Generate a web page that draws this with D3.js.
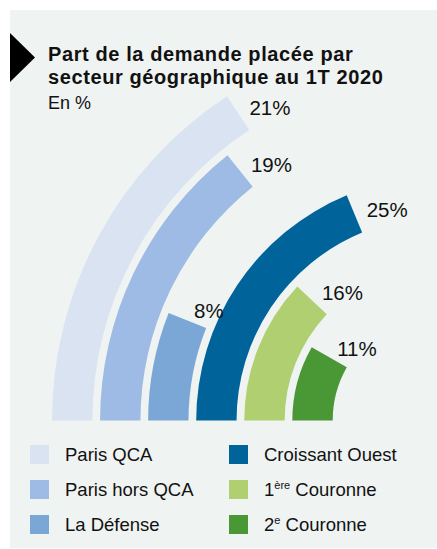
<!DOCTYPE html>
<html>
<head>
<meta charset="utf-8">
<script src="https://cdn.jsdelivr.net/npm/d3@7"></script>
<style>
  body { margin: 0; background: #ffffff; }
  #chart { width: 437px; height: 549px; }
  text { font-family: "Liberation Sans", Arial, sans-serif; }
</style>
</head>
<body>
<div id="chart"></div>
<script>
// data
const categories = ["Paris QCA", "Paris hors QCA", "La Défense", "Croissant Ouest", "1ère Couronne", "2e Couronne"];
const values = [21, 19, 8, 25, 16, 11];
const colors = ["#dae3f1", "#9dbbe4", "#7ba7d7", "#00649b", "#b0cf70", "#4a9735"];
// legend labels, split so the ordinals can be drawn in superscript
const legendParts = [
  ["Paris QCA", "", ""],
  ["Paris hors QCA", "", ""],
  ["La Défense", "", ""],
  ["Croissant Ouest", "", ""],
  ["1", "ère", " Couronne"],
  ["2", "e", " Couronne"]
];

const width = 437, height = 549;
const svg = d3.select("#chart").append("svg")
  .attr("width", width)
  .attr("height", height);

// panel + marker
svg.append("rect")
  .attr("x", 10).attr("y", 10)
  .attr("width", width - 10).attr("height", 538)
  .attr("fill", "#eff3f2");

svg.append("path")
  .attr("d", "M10,33 L35,57.5 L10,82 Z")
  .attr("fill", "#000");

// title
const title = svg.append("text")
  .attr("x", 48)
  .attr("font-weight", "bold")
  .attr("font-size", 20)
  .attr("letter-spacing", 0.6)
  .attr("fill", "#111");
title.append("tspan").attr("x", 48).attr("y", 61).text("Part de la demande placée par");
title.append("tspan").attr("x", 48).attr("y", 84).text("secteur géographique au 1T 2020");

svg.append("text")
  .attr("x", 48).attr("y", 109)
  .attr("font-size", 18)
  .attr("fill", "#111")
  .text("En %");

// radial bars, centre on the right of the baseline
const cx = 440, cy = 420.5;
const g = svg.append("g").attr("transform", `translate(${cx},${cy})`);

const r = d3.scaleBand()
  .domain(categories)
  .range([388, 107.3])
  .paddingInner(0.16)
  .paddingOuter(0);

// 100% would be three quarters of a turn, starting at 9 o'clock
const angle = d3.scaleLinear()
  .domain([0, 100])
  .range([0, 1.5 * Math.PI]);

const color = d3.scaleOrdinal().domain(categories).range(colors);

const start = -Math.PI / 2;
const arc = d3.arc()
  .innerRadius(d => r(d.cat))
  .outerRadius(d => r(d.cat) + r.bandwidth())
  .startAngle(start)
  .endAngle(d => start + angle(d.value));

const rows = categories.map((c, i) => ({cat: c, value: values[i]}));

g.selectAll("path.bar")
  .data(rows)
  .join("path")
  .attr("class", "bar")
  .attr("d", arc)
  .attr("fill", d => color(d.cat));

// value labels just past the end of each bar
g.selectAll("text.val")
  .data(rows)
  .join("text")
  .attr("class", "val")
  .attr("font-size", 20.5)
  .attr("fill", "#111")
  .attr("x", d => {
    const a = start + angle(d.value);
    const rm = r(d.cat) + r.bandwidth() / 2;
    return rm * Math.sin(a) + 10 * Math.cos(a) + 3;
  })
  .attr("y", d => {
    const a = start + angle(d.value);
    const rm = r(d.cat) + r.bandwidth() / 2;
    return -rm * Math.cos(a) + 10 * Math.sin(a) + 7;
  })
  .text(d => d.value + "%");

// legend, two columns of three
const legend = svg.append("g");
const item = legend.selectAll("g")
  .data(rows)
  .join("g")
  .attr("transform", (d, i) => `translate(${i < 3 ? 30 : 229},${445 + (i % 3) * 35})`);

item.append("rect")
  .attr("width", 19).attr("height", 19)
  .attr("fill", d => color(d.cat));

const lt = item.append("text")
  .attr("x", 35).attr("y", 16)
  .attr("font-size", 18.5)
  .attr("fill", "#111");

lt.each(function(d, i) {
  const p = legendParts[i];
  const t = d3.select(this);
  t.append("tspan").text(p[0]);
  if (p[1]) {
    t.append("tspan").attr("font-size", 11).attr("dy", -7).text(p[1]);
    t.append("tspan").attr("dy", 7).text(p[2]);
  }
});
</script>
</body>
</html>
